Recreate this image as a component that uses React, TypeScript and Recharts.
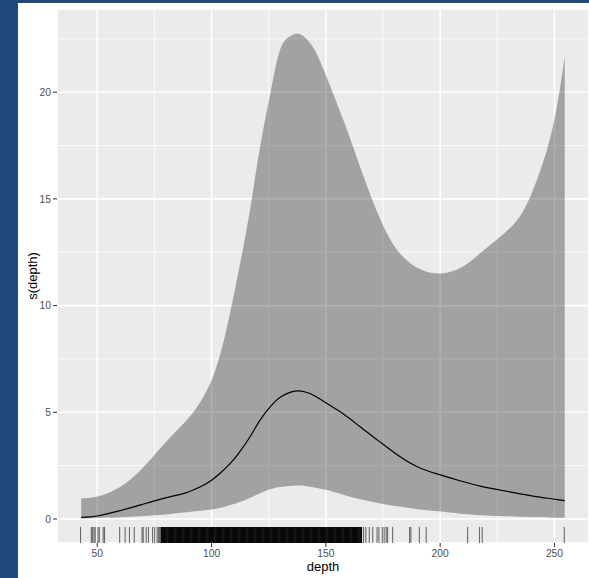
import React from 'react';
import { ComposedChart, Area, Line, Scatter, XAxis, YAxis, CartesianGrid } from 'recharts';

// smooth term s(depth): estimate and confidence band
const depthGrid = [43, 50, 60, 69, 75, 83, 88, 92, 96, 100, 104, 108, 112, 117, 121, 126, 130, 134, 137.5, 141, 145, 150, 158, 165, 174, 182, 190, 199, 209, 218, 226, 235, 242, 248, 252, 254.5];
const upperBand = [0.97, 1.05, 1.5, 2.3, 3.0, 3.95, 4.5, 5.0, 5.65, 6.5, 7.8, 9.6, 11.7, 14.6, 17.3, 20.1, 22.0, 22.6, 22.74, 22.55, 22.0, 20.8, 18.6, 16.5, 14.0, 12.5, 11.77, 11.5, 11.77, 12.5, 13.2, 14.2, 15.8, 17.8, 19.9, 21.7];
const fitLine = [0.08, 0.14, 0.39, 0.66, 0.85, 1.07, 1.2, 1.36, 1.56, 1.82, 2.17, 2.58, 3.1, 3.88, 4.6, 5.3, 5.7, 5.92, 6.0, 5.95, 5.78, 5.45, 4.9, 4.32, 3.58, 2.95, 2.45, 2.1, 1.78, 1.53, 1.36, 1.18, 1.05, 0.96, 0.9, 0.86];
const lowerBand = [0.02, 0.05, 0.08, 0.13, 0.17, 0.25, 0.3, 0.35, 0.4, 0.45, 0.53, 0.64, 0.78, 1.0, 1.2, 1.4, 1.5, 1.55, 1.57, 1.55, 1.48, 1.37, 1.13, 0.93, 0.73, 0.58, 0.46, 0.36, 0.25, 0.18, 0.14, 0.11, 0.09, 0.07, 0.06, 0.06];

// rug of observed depths: scattered observations and the densely sampled core
const rugSparse = [42.7, 47.4, 47.9, 48.6, 49.1, 50.3, 50.9, 52.6, 53.2, 59.8, 62.2, 64.1, 66.2, 69.6, 70.1, 71.4, 72.4, 74.2, 75.1, 76.2, 76.8, 77.3, 166.5, 167.5, 169, 170.5, 172.4, 173.2, 174.7, 175.5, 176.4, 177, 179.2, 186.6, 187.2, 190.9, 193.9, 212, 217.2, 218.4, 254.3];
const rugDense = [
  78, 78.5, 79, 79.5, 80, 80.5, 81, 81.5, 82, 82.5, 83, 83.5, 84, 84.5, 85, 85.5, 86, 86.5, 87, 87.5, 88, 88.5, 89, 89.5,
  90, 90.5, 91, 91.5, 92, 92.5, 93, 93.5, 94, 94.5, 95, 95.5, 96, 96.5, 97, 97.5, 98, 98.5, 99, 99.5,
  100, 100.5, 101, 101.5, 102, 102.5, 103, 103.5, 104, 104.5, 105, 105.5, 106, 106.5, 107, 107.5, 108, 108.5, 109, 109.5,
  110, 110.5, 111, 111.5, 112, 112.5, 113, 113.5, 114, 114.5, 115, 115.5, 116, 116.5, 117, 117.5, 118, 118.5, 119, 119.5,
  120, 120.5, 121, 121.5, 122, 122.5, 123, 123.5, 124, 124.5, 125, 125.5, 126, 126.5, 127, 127.5, 128, 128.5, 129, 129.5,
  130, 130.5, 131, 131.5, 132, 132.5, 133, 133.5, 134, 134.5, 135, 135.5, 136, 136.5, 137, 137.5, 138, 138.5, 139, 139.5,
  140, 140.5, 141, 141.5, 142, 142.5, 143, 143.5, 144, 144.5, 145, 145.5, 146, 146.5, 147, 147.5, 148, 148.5, 149, 149.5,
  150, 150.5, 151, 151.5, 152, 152.5, 153, 153.5, 154, 154.5, 155, 155.5, 156, 156.5, 157, 157.5, 158, 158.5, 159, 159.5,
  160, 160.5, 161, 161.5, 162, 162.5, 163, 163.5, 164, 164.5, 165, 165.5,
];

const xTicks = [50, 100, 150, 200, 250];
const yTicks = [0, 5, 10, 15, 20];
const xMinor = [75, 125, 175, 225];
const yMinor = [2.5, 7.5, 12.5, 17.5, 22.5];

const X_DOMAIN = [32.4, 265.1];
const Y_DOMAIN = [-1.125, 23.9];

const curve = depthGrid.map((depth, i) => ({
  depth,
  band: [lowerBand[i], upperBand[i]],
  fit: fitLine[i],
}));

const rugLight = rugSparse.map((depth) => ({ depth, base: Y_DOMAIN[0] }));
const rugDark = rugDense.map((depth) => ({ depth, base: Y_DOMAIN[0] }));

const makeRugTick = (opacity: number, width: number) => (props: any) => {
  const { cx, cy } = props;
  return <line x1={cx} x2={cx} y1={cy} y2={cy - 16} stroke="#000" strokeWidth={width} strokeOpacity={opacity} />;
};

const YTitle = (props: any) => {
  const vb = props.viewBox || {};
  const cy = vb.y != null ? vb.y + vb.height / 2 : 273;
  return (
    <text x={14} y={cy} transform={`rotate(-90, 14, ${cy})`} textAnchor="middle" dominantBaseline="central" fontSize={13} fill="#000">
      s(depth)
    </text>
  );
};

const tickStyle = { fill: '#4D4D4D', fontSize: 10.3 };

export default function App() {
  return (
    <div style={{ position: 'absolute', left: 0, top: 0, width: 589, height: 578, background: '#1F497D', overflow: 'hidden' }}>
      <div style={{ position: 'absolute', left: 18, top: 3, width: 571, height: 575, background: '#fff', fontFamily: '"Liberation Sans", Arial, sans-serif' }}>
        <ComposedChart width={571} height={575} data={curve} margin={{ top: 6, right: 0, bottom: 0, left: 0 }}>
          <CartesianGrid fill="#EBEBEB" stroke="#fff" strokeWidth={0.8} horizontalValues={yMinor} verticalValues={xMinor} />
          <CartesianGrid stroke="#fff" strokeWidth={1.6} />
          <XAxis
            type="number"
            dataKey="depth"
            domain={X_DOMAIN}
            ticks={xTicks}
            allowDataOverflow
            height={35}
            axisLine={false}
            tickLine={{ stroke: '#333', strokeWidth: 1 }}
            tickSize={4}
            tickMargin={3}
            tick={tickStyle}
            label={{ value: 'depth', position: 'insideBottom', offset: 7, fill: '#000', fontSize: 13 }}
          />
          <YAxis
            type="number"
            domain={Y_DOMAIN}
            ticks={yTicks}
            allowDataOverflow
            width={39}
            axisLine={false}
            tickLine={{ stroke: '#333', strokeWidth: 1 }}
            tickSize={4}
            tickMargin={2}
            tick={tickStyle}
            label={<YTitle />}
          />
          <Area dataKey="band" type="natural" fill="#000" fillOpacity={0.31} stroke="none" isAnimationActive={false} />
          <Line dataKey="fit" type="natural" stroke="#000" strokeWidth={1.2} dot={false} isAnimationActive={false} />
          <Scatter data={rugLight} dataKey="base" shape={makeRugTick(0.55, 1.1)} isAnimationActive={false} />
          <Scatter data={rugDark} dataKey="base" shape={makeRugTick(0.95, 1.6)} isAnimationActive={false} />
        </ComposedChart>
      </div>
    </div>
  );
}
